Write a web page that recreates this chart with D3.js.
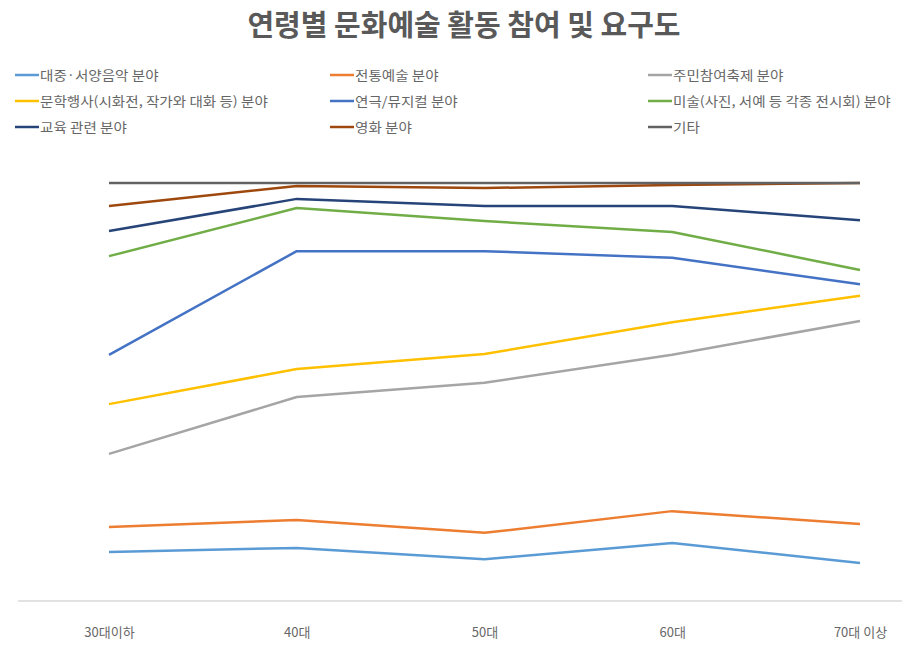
<!DOCTYPE html>
<html><head><meta charset="utf-8">
<script src="https://cdn.jsdelivr.net/npm/d3@7"></script>
<style>body{margin:0;background:#fff;font-family:"Noto Sans CJK KR","Noto Sans",sans-serif;}</style>
</head><body><svg id="c" width="902" height="645"></svg>
<script>
const title = "연령별 문화예술 활동 참여 및 요구도";
const categories = ["30대이하", "40대", "50대", "60대", "70대 이상"];
const seriesNames = ["대중·서양음악 분야", "전통예술 분야", "주민참여축제 분야",
  "문학행사(시화전, 작가와 대화 등) 분야", "연극/뮤지컬 분야", "미술(사진, 서예 등 각종 전시회) 분야",
  "교육 관련 분야", "영화 분야", "기타"];
const popMusic   = [11.7, 12.7, 10.0, 13.9, 9.1];
const tradArt    = [6.0, 6.7, 6.3, 7.6, 9.3];
const festival   = [17.5, 29.4, 35.9, 37.4, 48.6];
const literature = [11.9, 6.7, 6.9, 7.8, 6.0];
const theater    = [11.8, 28.2, 24.6, 15.4, 2.8];
const artShow    = [23.6, 10.3, 7.2, 6.2, 3.4];
const education  = [6.0, 2.2, 3.6, 6.2, 11.9];
const film       = [6.0, 3.1, 4.3, 5.0, 8.9];
const etc        = [5.5, 0.7, 1.2, 0.5, 0.0];
const seriesValues = [popMusic, tradArt, festival, literature, theater, artShow, education, film, etc];
const colors = ["#5B9BD5", "#ED7D31", "#A5A5A5", "#FFC000", "#4472C4", "#70AD47", "#264478", "#9E480E", "#636363"];

const svg = d3.select("#c");
svg.append("text").attr("x", 464).attr("y", 36).attr("text-anchor", "middle")
  .attr("font-size", 29).attr("font-weight", "bold").attr("fill", "#595959").text(title);

// legend
const legCols = [15, 330, 648], legRows = [75, 101, 127];
seriesNames.forEach((n, i) => {
  const lx = legCols[i % 3], ly = legRows[Math.floor(i / 3)];
  const g = svg.append("g").attr("transform", `translate(${lx},${ly})`);
  g.append("line").attr("x1", 0).attr("x2", 24).attr("y1", 0).attr("y2", 0)
    .attr("stroke", colors[i]).attr("stroke-width", 2.5);
  g.append("text").attr("transform", "translate(25,4.5) scale(1.12,1)")
    .attr("font-size", 13).attr("fill", "#666").text(n);
});

const x = d3.scalePoint().domain(categories).range([109, 860]);
const y = d3.scaleLinear().domain([0, 100]).range([601, 183]);

// stacked cumulative
const rows = categories.map((c, j) => { const o = {cat: c}; seriesNames.forEach((n, i) => o[n] = seriesValues[i][j]); return o; });
const stacked = d3.stack().keys(seriesNames)(rows);

// axis line
svg.append("line").attr("x1", 18).attr("x2", 902).attr("y1", 601).attr("y2", 601)
  .attr("stroke", "#d9d9d9").attr("stroke-width", 1.5);

const xAxis = svg.append("g").attr("transform", "translate(0,601)")
  .call(d3.axisBottom(x).tickSize(0).tickPadding(27));
xAxis.select(".domain").remove();
xAxis.selectAll("text").attr("font-size", 13).attr("fill", "#666")
  .attr("font-family", "'Noto Sans CJK KR', sans-serif");

const line = d3.line().x(d => x(d.data.cat)).y(d => y(d[1]));
stacked.forEach((s, i) => {
  svg.append("path").datum(s).attr("d", line).attr("fill", "none")
    .attr("stroke", colors[i]).attr("stroke-width", 2.5).attr("stroke-linejoin", "round");
});
</script></body></html>
